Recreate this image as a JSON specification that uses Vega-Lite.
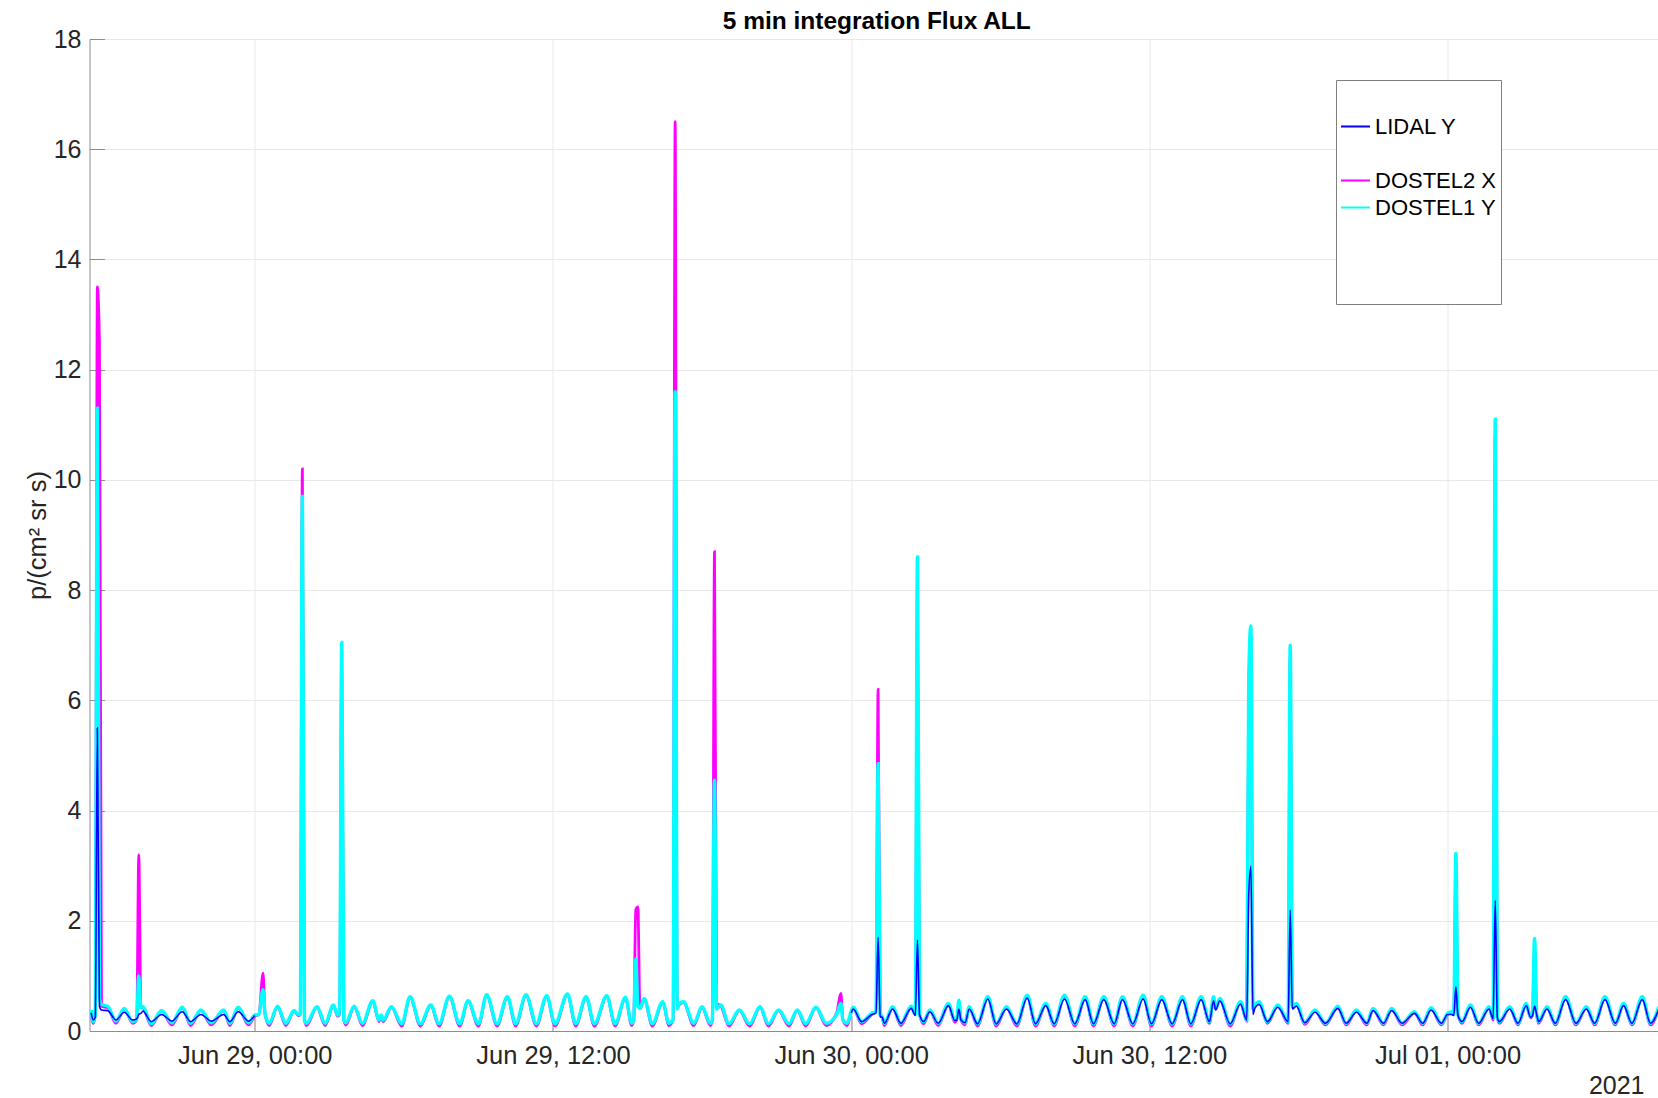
{
"$schema":"https://vega.github.io/schema/vega-lite/v6.json",
"autosize":{"type":"none"},
"width":1568.5,"height":992,
"padding":{"left":89.5,"top":39,"right":0,"bottom":67},
"background":"#ffffff",
"config":{"view":{"stroke":null},"font":"Liberation Sans"},
"title":{"text":"5 min integration Flux ALL","font":"Liberation Sans","fontSize":24.5,"fontWeight":"bold","anchor":"middle","frame":"group","offset":9,"baseline":"alphabetic","dx":3,"dy":35,"color":"#000000"},
"data":{"values":[
{"t":"2021-06-28T17:25","DOSTEL2 X":0.35,"DOSTEL1 Y":0.38,"LIDAL Y":0.33},
{"t":"2021-06-28T17:30","DOSTEL2 X":0.14,"DOSTEL1 Y":0.17,"LIDAL Y":0.2},
{"t":"2021-06-28T17:35","DOSTEL2 X":0.3,"DOSTEL1 Y":0.3,"LIDAL Y":0.25},
{"t":"2021-06-28T17:40","DOSTEL2 X":13.5,"DOSTEL1 Y":11.3,"LIDAL Y":5.5},
{"t":"2021-06-28T17:45","DOSTEL2 X":12.5,"DOSTEL1 Y":0.6,"LIDAL Y":0.45},
{"t":"2021-06-28T17:50","DOSTEL2 X":0.45,"DOSTEL1 Y":0.48,"LIDAL Y":0.38},
{"t":"2021-06-28T18:05","DOSTEL2 X":0.42,"DOSTEL1 Y":0.45,"LIDAL Y":0.37},
{"t":"2021-06-28T18:25","DOSTEL2 X":0.14,"DOSTEL1 Y":0.18,"LIDAL Y":0.2},
{"t":"2021-06-28T18:45","DOSTEL2 X":0.4,"DOSTEL1 Y":0.41,"LIDAL Y":0.34},
{"t":"2021-06-28T19:05","DOSTEL2 X":0.14,"DOSTEL1 Y":0.17,"LIDAL Y":0.2},
{"t":"2021-06-28T19:15","DOSTEL2 X":0.2,"DOSTEL1 Y":0.2,"LIDAL Y":0.22},
{"t":"2021-06-28T19:20","DOSTEL2 X":3.2,"DOSTEL1 Y":1.0,"LIDAL Y":0.3},
{"t":"2021-06-28T19:25","DOSTEL2 X":0.45,"DOSTEL1 Y":0.42,"LIDAL Y":0.32},
{"t":"2021-06-28T19:30","DOSTEL2 X":0.43,"DOSTEL1 Y":0.44,"LIDAL Y":0.36},
{"t":"2021-06-28T19:50","DOSTEL2 X":0.1,"DOSTEL1 Y":0.13,"LIDAL Y":0.17},
{"t":"2021-06-28T20:15","DOSTEL2 X":0.36,"DOSTEL1 Y":0.37,"LIDAL Y":0.3},
{"t":"2021-06-28T20:40","DOSTEL2 X":0.11,"DOSTEL1 Y":0.15,"LIDAL Y":0.18},
{"t":"2021-06-28T21:05","DOSTEL2 X":0.42,"DOSTEL1 Y":0.43,"LIDAL Y":0.35},
{"t":"2021-06-28T21:25","DOSTEL2 X":0.1,"DOSTEL1 Y":0.14,"LIDAL Y":0.17},
{"t":"2021-06-28T21:50","DOSTEL2 X":0.37,"DOSTEL1 Y":0.38,"LIDAL Y":0.3},
{"t":"2021-06-28T22:15","DOSTEL2 X":0.11,"DOSTEL1 Y":0.15,"LIDAL Y":0.18},
{"t":"2021-06-28T22:45","DOSTEL2 X":0.37,"DOSTEL1 Y":0.38,"LIDAL Y":0.3},
{"t":"2021-06-28T23:00","DOSTEL2 X":0.1,"DOSTEL1 Y":0.14,"LIDAL Y":0.17},
{"t":"2021-06-28T23:20","DOSTEL2 X":0.42,"DOSTEL1 Y":0.43,"LIDAL Y":0.35},
{"t":"2021-06-28T23:45","DOSTEL2 X":0.11,"DOSTEL1 Y":0.15,"LIDAL Y":0.18},
{"t":"2021-06-29T00:00","DOSTEL2 X":0.27,"DOSTEL1 Y":0.29,"LIDAL Y":0.28},
{"t":"2021-06-29T00:10","DOSTEL2 X":0.3,"DOSTEL1 Y":0.3},
{"t":"2021-06-29T00:20","DOSTEL2 X":1.05,"DOSTEL1 Y":0.75},
{"t":"2021-06-29T00:25","DOSTEL2 X":0.3,"DOSTEL1 Y":0.3},
{"t":"2021-06-29T00:35","DOSTEL2 X":0.1,"DOSTEL1 Y":0.14},
{"t":"2021-06-29T00:55","DOSTEL2 X":0.44,"DOSTEL1 Y":0.45},
{"t":"2021-06-29T01:15","DOSTEL2 X":0.1,"DOSTEL1 Y":0.14},
{"t":"2021-06-29T01:35","DOSTEL2 X":0.36,"DOSTEL1 Y":0.37},
{"t":"2021-06-29T01:45","DOSTEL2 X":0.28,"DOSTEL1 Y":0.3},
{"t":"2021-06-29T01:50","DOSTEL2 X":0.3,"DOSTEL1 Y":0.3},
{"t":"2021-06-29T01:55","DOSTEL2 X":10.2,"DOSTEL1 Y":9.7},
{"t":"2021-06-29T02:00","DOSTEL2 X":0.2,"DOSTEL1 Y":0.2},
{"t":"2021-06-29T02:05","DOSTEL2 X":0.1,"DOSTEL1 Y":0.14},
{"t":"2021-06-29T02:30","DOSTEL2 X":0.43,"DOSTEL1 Y":0.44},
{"t":"2021-06-29T02:50","DOSTEL2 X":0.1,"DOSTEL1 Y":0.14},
{"t":"2021-06-29T03:10","DOSTEL2 X":0.46,"DOSTEL1 Y":0.47},
{"t":"2021-06-29T03:20","DOSTEL2 X":0.27,"DOSTEL1 Y":0.29},
{"t":"2021-06-29T03:25","DOSTEL2 X":0.3,"DOSTEL1 Y":0.3},
{"t":"2021-06-29T03:30","DOSTEL2 X":6.9,"DOSTEL1 Y":7.05},
{"t":"2021-06-29T03:35","DOSTEL2 X":0.2,"DOSTEL1 Y":0.2},
{"t":"2021-06-29T03:40","DOSTEL2 X":0.11,"DOSTEL1 Y":0.15},
{"t":"2021-06-29T04:00","DOSTEL2 X":0.44,"DOSTEL1 Y":0.45},
{"t":"2021-06-29T04:20","DOSTEL2 X":0.1,"DOSTEL1 Y":0.14},
{"t":"2021-06-29T04:45","DOSTEL2 X":0.54,"DOSTEL1 Y":0.55},
{"t":"2021-06-29T05:00","DOSTEL2 X":0.17,"DOSTEL1 Y":0.2},
{"t":"2021-06-29T05:05","DOSTEL2 X":0.27,"DOSTEL1 Y":0.29},
{"t":"2021-06-29T05:10","DOSTEL2 X":0.17,"DOSTEL1 Y":0.2},
{"t":"2021-06-29T05:30","DOSTEL2 X":0.43,"DOSTEL1 Y":0.44},
{"t":"2021-06-29T05:55","DOSTEL2 X":0.09,"DOSTEL1 Y":0.13},
{"t":"2021-06-29T06:15","DOSTEL2 X":0.61,"DOSTEL1 Y":0.62},
{"t":"2021-06-29T06:40","DOSTEL2 X":0.09,"DOSTEL1 Y":0.13},
{"t":"2021-06-29T07:05","DOSTEL2 X":0.46,"DOSTEL1 Y":0.47},
{"t":"2021-06-29T07:25","DOSTEL2 X":0.09,"DOSTEL1 Y":0.13},
{"t":"2021-06-29T07:50","DOSTEL2 X":0.62,"DOSTEL1 Y":0.63},
{"t":"2021-06-29T08:15","DOSTEL2 X":0.09,"DOSTEL1 Y":0.13},
{"t":"2021-06-29T08:35","DOSTEL2 X":0.54,"DOSTEL1 Y":0.55},
{"t":"2021-06-29T09:00","DOSTEL2 X":0.09,"DOSTEL1 Y":0.13},
{"t":"2021-06-29T09:20","DOSTEL2 X":0.65,"DOSTEL1 Y":0.66},
{"t":"2021-06-29T09:45","DOSTEL2 X":0.09,"DOSTEL1 Y":0.13},
{"t":"2021-06-29T10:10","DOSTEL2 X":0.61,"DOSTEL1 Y":0.62},
{"t":"2021-06-29T10:30","DOSTEL2 X":0.09,"DOSTEL1 Y":0.13},
{"t":"2021-06-29T10:55","DOSTEL2 X":0.65,"DOSTEL1 Y":0.66},
{"t":"2021-06-29T11:20","DOSTEL2 X":0.09,"DOSTEL1 Y":0.13},
{"t":"2021-06-29T11:45","DOSTEL2 X":0.63,"DOSTEL1 Y":0.64},
{"t":"2021-06-29T12:05","DOSTEL2 X":0.09,"DOSTEL1 Y":0.13},
{"t":"2021-06-29T12:35","DOSTEL2 X":0.66,"DOSTEL1 Y":0.67},
{"t":"2021-06-29T12:55","DOSTEL2 X":0.09,"DOSTEL1 Y":0.13},
{"t":"2021-06-29T13:20","DOSTEL2 X":0.61,"DOSTEL1 Y":0.62},
{"t":"2021-06-29T13:40","DOSTEL2 X":0.09,"DOSTEL1 Y":0.13},
{"t":"2021-06-29T14:10","DOSTEL2 X":0.63,"DOSTEL1 Y":0.64},
{"t":"2021-06-29T14:30","DOSTEL2 X":0.09,"DOSTEL1 Y":0.13},
{"t":"2021-06-29T14:55","DOSTEL2 X":0.6,"DOSTEL1 Y":0.61},
{"t":"2021-06-29T15:10","DOSTEL2 X":0.1,"DOSTEL1 Y":0.14},
{"t":"2021-06-29T15:15","DOSTEL2 X":0.2,"DOSTEL1 Y":0.2},
{"t":"2021-06-29T15:20","DOSTEL2 X":2.2,"DOSTEL1 Y":1.3},
{"t":"2021-06-29T15:25","DOSTEL2 X":2.25,"DOSTEL1 Y":0.45},
{"t":"2021-06-29T15:30","DOSTEL2 X":0.4,"DOSTEL1 Y":0.41},
{"t":"2021-06-29T15:40","DOSTEL2 X":0.58,"DOSTEL1 Y":0.59},
{"t":"2021-06-29T16:00","DOSTEL2 X":0.09,"DOSTEL1 Y":0.13},
{"t":"2021-06-29T16:25","DOSTEL2 X":0.52,"DOSTEL1 Y":0.53},
{"t":"2021-06-29T16:40","DOSTEL2 X":0.1,"DOSTEL1 Y":0.14},
{"t":"2021-06-29T16:50","DOSTEL2 X":0.2,"DOSTEL1 Y":0.2},
{"t":"2021-06-29T16:55","DOSTEL2 X":16.5,"DOSTEL1 Y":11.6},
{"t":"2021-06-29T17:00","DOSTEL2 X":0.45,"DOSTEL1 Y":0.4},
{"t":"2021-06-29T17:05","DOSTEL2 X":0.48,"DOSTEL1 Y":0.5},
{"t":"2021-06-29T17:15","DOSTEL2 X":0.52,"DOSTEL1 Y":0.53},
{"t":"2021-06-29T17:40","DOSTEL2 X":0.1,"DOSTEL1 Y":0.14},
{"t":"2021-06-29T18:00","DOSTEL2 X":0.43,"DOSTEL1 Y":0.44},
{"t":"2021-06-29T18:20","DOSTEL2 X":0.1,"DOSTEL1 Y":0.14},
{"t":"2021-06-29T18:25","DOSTEL2 X":0.2,"DOSTEL1 Y":0.2},
{"t":"2021-06-29T18:30","DOSTEL2 X":8.7,"DOSTEL1 Y":4.55},
{"t":"2021-06-29T18:35","DOSTEL2 X":0.5,"DOSTEL1 Y":0.4},
{"t":"2021-06-29T18:45","DOSTEL2 X":0.46,"DOSTEL1 Y":0.47},
{"t":"2021-06-29T19:05","DOSTEL2 X":0.09,"DOSTEL1 Y":0.13},
{"t":"2021-06-29T19:30","DOSTEL2 X":0.37,"DOSTEL1 Y":0.38},
{"t":"2021-06-29T19:55","DOSTEL2 X":0.09,"DOSTEL1 Y":0.13},
{"t":"2021-06-29T20:20","DOSTEL2 X":0.43,"DOSTEL1 Y":0.44},
{"t":"2021-06-29T20:40","DOSTEL2 X":0.09,"DOSTEL1 Y":0.13},
{"t":"2021-06-29T21:05","DOSTEL2 X":0.37,"DOSTEL1 Y":0.38},
{"t":"2021-06-29T21:30","DOSTEL2 X":0.09,"DOSTEL1 Y":0.13},
{"t":"2021-06-29T21:50","DOSTEL2 X":0.37,"DOSTEL1 Y":0.38},
{"t":"2021-06-29T22:10","DOSTEL2 X":0.09,"DOSTEL1 Y":0.13},
{"t":"2021-06-29T22:35","DOSTEL2 X":0.42,"DOSTEL1 Y":0.43},
{"t":"2021-06-29T23:00","DOSTEL2 X":0.1,"DOSTEL1 Y":0.14},
{"t":"2021-06-29T23:25","DOSTEL2 X":0.33,"DOSTEL1 Y":0.3},
{"t":"2021-06-29T23:35","DOSTEL2 X":0.68,"DOSTEL1 Y":0.5},
{"t":"2021-06-29T23:40","DOSTEL2 X":0.2,"DOSTEL1 Y":0.2},
{"t":"2021-06-29T23:50","DOSTEL2 X":0.1,"DOSTEL1 Y":0.14},
{"t":"2021-06-30T00:00","DOSTEL2 X":0.33,"DOSTEL1 Y":0.35,"LIDAL Y":0.33},
{"t":"2021-06-30T00:05","DOSTEL2 X":0.41,"DOSTEL1 Y":0.43,"LIDAL Y":0.4},
{"t":"2021-06-30T00:25","DOSTEL2 X":0.13,"DOSTEL1 Y":0.17,"LIDAL Y":0.17},
{"t":"2021-06-30T00:50","DOSTEL2 X":0.3,"DOSTEL1 Y":0.32,"LIDAL Y":0.3},
{"t":"2021-06-30T01:00","DOSTEL2 X":0.35,"DOSTEL1 Y":0.35,"LIDAL Y":0.33},
{"t":"2021-06-30T01:05","DOSTEL2 X":6.2,"DOSTEL1 Y":4.85,"LIDAL Y":1.7},
{"t":"2021-06-30T01:10","DOSTEL2 X":0.3,"DOSTEL1 Y":0.3,"LIDAL Y":0.26},
{"t":"2021-06-30T01:15","DOSTEL2 X":0.24,"DOSTEL1 Y":0.26,"LIDAL Y":0.25},
{"t":"2021-06-30T01:20","DOSTEL2 X":0.1,"DOSTEL1 Y":0.14,"LIDAL Y":0.14},
{"t":"2021-06-30T01:40","DOSTEL2 X":0.42,"DOSTEL1 Y":0.44,"LIDAL Y":0.4},
{"t":"2021-06-30T02:00","DOSTEL2 X":0.1,"DOSTEL1 Y":0.14,"LIDAL Y":0.14},
{"t":"2021-06-30T02:25","DOSTEL2 X":0.43,"DOSTEL1 Y":0.45,"LIDAL Y":0.41},
{"t":"2021-06-30T02:35","DOSTEL2 X":0.3,"DOSTEL1 Y":0.3,"LIDAL Y":0.28},
{"t":"2021-06-30T02:40","DOSTEL2 X":8.1,"DOSTEL1 Y":8.6,"LIDAL Y":1.65},
{"t":"2021-06-30T02:45","DOSTEL2 X":0.3,"DOSTEL1 Y":0.3,"LIDAL Y":0.3},
{"t":"2021-06-30T02:55","DOSTEL2 X":0.13,"DOSTEL1 Y":0.17,"LIDAL Y":0.17},
{"t":"2021-06-30T03:10","DOSTEL2 X":0.36,"DOSTEL1 Y":0.38,"LIDAL Y":0.35},
{"t":"2021-06-30T03:30","DOSTEL2 X":0.1,"DOSTEL1 Y":0.14,"LIDAL Y":0.14},
{"t":"2021-06-30T03:55","DOSTEL2 X":0.48,"DOSTEL1 Y":0.5,"LIDAL Y":0.46},
{"t":"2021-06-30T04:10","DOSTEL2 X":0.16,"DOSTEL1 Y":0.2,"LIDAL Y":0.19},
{"t":"2021-06-30T04:15","DOSTEL2 X":0.2,"DOSTEL1 Y":0.22,"LIDAL Y":0.2},
{"t":"2021-06-30T04:20","DOSTEL2 X":0.5,"DOSTEL1 Y":0.56,"LIDAL Y":0.4},
{"t":"2021-06-30T04:25","DOSTEL2 X":0.2,"DOSTEL1 Y":0.22,"LIDAL Y":0.2},
{"t":"2021-06-30T04:35","DOSTEL2 X":0.11,"DOSTEL1 Y":0.15,"LIDAL Y":0.15},
{"t":"2021-06-30T04:45","DOSTEL2 X":0.42,"DOSTEL1 Y":0.44,"LIDAL Y":0.4},
{"t":"2021-06-30T05:05","DOSTEL2 X":0.09,"DOSTEL1 Y":0.13,"LIDAL Y":0.13},
{"t":"2021-06-30T05:30","DOSTEL2 X":0.6,"DOSTEL1 Y":0.62,"LIDAL Y":0.58},
{"t":"2021-06-30T05:50","DOSTEL2 X":0.09,"DOSTEL1 Y":0.13,"LIDAL Y":0.13},
{"t":"2021-06-30T06:15","DOSTEL2 X":0.42,"DOSTEL1 Y":0.44,"LIDAL Y":0.4},
{"t":"2021-06-30T06:40","DOSTEL2 X":0.09,"DOSTEL1 Y":0.13,"LIDAL Y":0.13},
{"t":"2021-06-30T07:05","DOSTEL2 X":0.63,"DOSTEL1 Y":0.65,"LIDAL Y":0.6},
{"t":"2021-06-30T07:25","DOSTEL2 X":0.09,"DOSTEL1 Y":0.13,"LIDAL Y":0.13},
{"t":"2021-06-30T07:50","DOSTEL2 X":0.48,"DOSTEL1 Y":0.5,"LIDAL Y":0.46},
{"t":"2021-06-30T08:10","DOSTEL2 X":0.09,"DOSTEL1 Y":0.13,"LIDAL Y":0.13},
{"t":"2021-06-30T08:35","DOSTEL2 X":0.63,"DOSTEL1 Y":0.65,"LIDAL Y":0.58},
{"t":"2021-06-30T09:00","DOSTEL2 X":0.09,"DOSTEL1 Y":0.13,"LIDAL Y":0.13},
{"t":"2021-06-30T09:25","DOSTEL2 X":0.6,"DOSTEL1 Y":0.62,"LIDAL Y":0.57},
{"t":"2021-06-30T09:45","DOSTEL2 X":0.09,"DOSTEL1 Y":0.13,"LIDAL Y":0.13},
{"t":"2021-06-30T10:10","DOSTEL2 X":0.6,"DOSTEL1 Y":0.62,"LIDAL Y":0.57},
{"t":"2021-06-30T10:35","DOSTEL2 X":0.09,"DOSTEL1 Y":0.13,"LIDAL Y":0.13},
{"t":"2021-06-30T10:55","DOSTEL2 X":0.6,"DOSTEL1 Y":0.62,"LIDAL Y":0.57},
{"t":"2021-06-30T11:20","DOSTEL2 X":0.09,"DOSTEL1 Y":0.13,"LIDAL Y":0.13},
{"t":"2021-06-30T11:45","DOSTEL2 X":0.63,"DOSTEL1 Y":0.65,"LIDAL Y":0.58},
{"t":"2021-06-30T12:05","DOSTEL2 X":0.09,"DOSTEL1 Y":0.13,"LIDAL Y":0.13},
{"t":"2021-06-30T12:30","DOSTEL2 X":0.6,"DOSTEL1 Y":0.62,"LIDAL Y":0.57},
{"t":"2021-06-30T12:55","DOSTEL2 X":0.09,"DOSTEL1 Y":0.13,"LIDAL Y":0.13},
{"t":"2021-06-30T13:20","DOSTEL2 X":0.6,"DOSTEL1 Y":0.62,"LIDAL Y":0.57},
{"t":"2021-06-30T13:40","DOSTEL2 X":0.09,"DOSTEL1 Y":0.13,"LIDAL Y":0.13},
{"t":"2021-06-30T14:05","DOSTEL2 X":0.6,"DOSTEL1 Y":0.62,"LIDAL Y":0.57},
{"t":"2021-06-30T14:25","DOSTEL2 X":0.14,"DOSTEL1 Y":0.17,"LIDAL Y":0.17},
{"t":"2021-06-30T14:35","DOSTEL2 X":0.58,"DOSTEL1 Y":0.62,"LIDAL Y":0.55},
{"t":"2021-06-30T14:40","DOSTEL2 X":0.4,"DOSTEL1 Y":0.41,"LIDAL Y":0.38},
{"t":"2021-06-30T14:50","DOSTEL2 X":0.57,"DOSTEL1 Y":0.59,"LIDAL Y":0.55},
{"t":"2021-06-30T15:15","DOSTEL2 X":0.09,"DOSTEL1 Y":0.13,"LIDAL Y":0.13},
{"t":"2021-06-30T15:40","DOSTEL2 X":0.51,"DOSTEL1 Y":0.53,"LIDAL Y":0.49},
{"t":"2021-06-30T15:55","DOSTEL2 X":0.18,"DOSTEL1 Y":0.2,"LIDAL Y":0.2},
{"t":"2021-06-30T16:00","DOSTEL2 X":6.2,"DOSTEL1 Y":6.4,"LIDAL Y":2.5},
{"t":"2021-06-30T16:05","DOSTEL2 X":7.1,"DOSTEL1 Y":7.35,"LIDAL Y":2.99},
{"t":"2021-06-30T16:10","DOSTEL2 X":0.4,"DOSTEL1 Y":0.4,"LIDAL Y":0.3},
{"t":"2021-06-30T16:15","DOSTEL2 X":0.45,"DOSTEL1 Y":0.47,"LIDAL Y":0.42},
{"t":"2021-06-30T16:25","DOSTEL2 X":0.51,"DOSTEL1 Y":0.53,"LIDAL Y":0.48},
{"t":"2021-06-30T16:45","DOSTEL2 X":0.14,"DOSTEL1 Y":0.17,"LIDAL Y":0.17},
{"t":"2021-06-30T17:10","DOSTEL2 X":0.45,"DOSTEL1 Y":0.47,"LIDAL Y":0.43},
{"t":"2021-06-30T17:35","DOSTEL2 X":0.14,"DOSTEL1 Y":0.17,"LIDAL Y":0.17},
{"t":"2021-06-30T17:40","DOSTEL2 X":6.8,"DOSTEL1 Y":7.0,"LIDAL Y":2.2},
{"t":"2021-06-30T17:45","DOSTEL2 X":0.43,"DOSTEL1 Y":0.45,"LIDAL Y":0.4},
{"t":"2021-06-30T17:55","DOSTEL2 X":0.48,"DOSTEL1 Y":0.5,"LIDAL Y":0.45},
{"t":"2021-06-30T18:15","DOSTEL2 X":0.12,"DOSTEL1 Y":0.15,"LIDAL Y":0.15},
{"t":"2021-06-30T18:40","DOSTEL2 X":0.36,"DOSTEL1 Y":0.38,"LIDAL Y":0.34},
{"t":"2021-06-30T19:05","DOSTEL2 X":0.11,"DOSTEL1 Y":0.14,"LIDAL Y":0.14},
{"t":"2021-06-30T19:35","DOSTEL2 X":0.43,"DOSTEL1 Y":0.45,"LIDAL Y":0.41},
{"t":"2021-06-30T19:55","DOSTEL2 X":0.11,"DOSTEL1 Y":0.14,"LIDAL Y":0.14},
{"t":"2021-06-30T20:20","DOSTEL2 X":0.36,"DOSTEL1 Y":0.38,"LIDAL Y":0.34},
{"t":"2021-06-30T20:45","DOSTEL2 X":0.11,"DOSTEL1 Y":0.14,"LIDAL Y":0.14},
{"t":"2021-06-30T21:00","DOSTEL2 X":0.39,"DOSTEL1 Y":0.41,"LIDAL Y":0.37},
{"t":"2021-06-30T21:25","DOSTEL2 X":0.11,"DOSTEL1 Y":0.14,"LIDAL Y":0.14},
{"t":"2021-06-30T21:45","DOSTEL2 X":0.39,"DOSTEL1 Y":0.41,"LIDAL Y":0.37},
{"t":"2021-06-30T22:10","DOSTEL2 X":0.11,"DOSTEL1 Y":0.14,"LIDAL Y":0.14},
{"t":"2021-06-30T22:40","DOSTEL2 X":0.33,"DOSTEL1 Y":0.35,"LIDAL Y":0.32},
{"t":"2021-06-30T23:00","DOSTEL2 X":0.11,"DOSTEL1 Y":0.14,"LIDAL Y":0.14},
{"t":"2021-06-30T23:20","DOSTEL2 X":0.4,"DOSTEL1 Y":0.42,"LIDAL Y":0.38},
{"t":"2021-06-30T23:45","DOSTEL2 X":0.11,"DOSTEL1 Y":0.14,"LIDAL Y":0.14},
{"t":"2021-07-01T00:00","DOSTEL2 X":0.3,"DOSTEL1 Y":0.32,"LIDAL Y":0.3},
{"t":"2021-07-01T00:10","DOSTEL2 X":0.33,"DOSTEL1 Y":0.35,"LIDAL Y":0.3},
{"t":"2021-07-01T00:15","DOSTEL2 X":0.3,"DOSTEL1 Y":0.3,"LIDAL Y":0.28},
{"t":"2021-07-01T00:20","DOSTEL2 X":3.0,"DOSTEL1 Y":3.22,"LIDAL Y":0.8},
{"t":"2021-07-01T00:25","DOSTEL2 X":0.3,"DOSTEL1 Y":0.3,"LIDAL Y":0.28},
{"t":"2021-07-01T00:35","DOSTEL2 X":0.14,"DOSTEL1 Y":0.17,"LIDAL Y":0.17},
{"t":"2021-07-01T00:55","DOSTEL2 X":0.45,"DOSTEL1 Y":0.47,"LIDAL Y":0.43},
{"t":"2021-07-01T01:15","DOSTEL2 X":0.11,"DOSTEL1 Y":0.14,"LIDAL Y":0.14},
{"t":"2021-07-01T01:40","DOSTEL2 X":0.42,"DOSTEL1 Y":0.44,"LIDAL Y":0.4},
{"t":"2021-07-01T01:50","DOSTEL2 X":0.2,"DOSTEL1 Y":0.23,"LIDAL Y":0.22},
{"t":"2021-07-01T01:55","DOSTEL2 X":10.8,"DOSTEL1 Y":11.1,"LIDAL Y":2.37},
{"t":"2021-07-01T02:00","DOSTEL2 X":0.25,"DOSTEL1 Y":0.25,"LIDAL Y":0.25},
{"t":"2021-07-01T02:05","DOSTEL2 X":0.14,"DOSTEL1 Y":0.17,"LIDAL Y":0.17},
{"t":"2021-07-01T02:30","DOSTEL2 X":0.42,"DOSTEL1 Y":0.44,"LIDAL Y":0.4},
{"t":"2021-07-01T02:50","DOSTEL2 X":0.11,"DOSTEL1 Y":0.14,"LIDAL Y":0.14},
{"t":"2021-07-01T03:10","DOSTEL2 X":0.48,"DOSTEL1 Y":0.5,"LIDAL Y":0.46},
{"t":"2021-07-01T03:20","DOSTEL2 X":0.24,"DOSTEL1 Y":0.26,"LIDAL Y":0.25},
{"t":"2021-07-01T03:25","DOSTEL2 X":0.28,"DOSTEL1 Y":0.3,"LIDAL Y":0.28},
{"t":"2021-07-01T03:30","DOSTEL2 X":1.5,"DOSTEL1 Y":1.68,"LIDAL Y":0.45},
{"t":"2021-07-01T03:35","DOSTEL2 X":0.3,"DOSTEL1 Y":0.3,"LIDAL Y":0.3},
{"t":"2021-07-01T03:40","DOSTEL2 X":0.14,"DOSTEL1 Y":0.17,"LIDAL Y":0.17},
{"t":"2021-07-01T04:00","DOSTEL2 X":0.42,"DOSTEL1 Y":0.44,"LIDAL Y":0.4},
{"t":"2021-07-01T04:20","DOSTEL2 X":0.11,"DOSTEL1 Y":0.14,"LIDAL Y":0.14},
{"t":"2021-07-01T04:45","DOSTEL2 X":0.6,"DOSTEL1 Y":0.62,"LIDAL Y":0.57},
{"t":"2021-07-01T05:10","DOSTEL2 X":0.11,"DOSTEL1 Y":0.14,"LIDAL Y":0.14},
{"t":"2021-07-01T05:35","DOSTEL2 X":0.42,"DOSTEL1 Y":0.44,"LIDAL Y":0.4},
{"t":"2021-07-01T05:55","DOSTEL2 X":0.11,"DOSTEL1 Y":0.14,"LIDAL Y":0.14},
{"t":"2021-07-01T06:20","DOSTEL2 X":0.6,"DOSTEL1 Y":0.62,"LIDAL Y":0.57},
{"t":"2021-07-01T06:45","DOSTEL2 X":0.11,"DOSTEL1 Y":0.14,"LIDAL Y":0.14},
{"t":"2021-07-01T07:05","DOSTEL2 X":0.48,"DOSTEL1 Y":0.5,"LIDAL Y":0.46},
{"t":"2021-07-01T07:25","DOSTEL2 X":0.11,"DOSTEL1 Y":0.14,"LIDAL Y":0.14},
{"t":"2021-07-01T07:50","DOSTEL2 X":0.6,"DOSTEL1 Y":0.62,"LIDAL Y":0.57},
{"t":"2021-07-01T08:10","DOSTEL2 X":0.11,"DOSTEL1 Y":0.14,"LIDAL Y":0.14},
{"t":"2021-07-01T08:30","DOSTEL2 X":0.42,"DOSTEL1 Y":0.44,"LIDAL Y":0.4}
]},
"transform":[{"fold":["DOSTEL2 X","DOSTEL1 Y","LIDAL Y"],"as":["series","flux"]}],
"encoding":{
"x":{"field":"t","type":"temporal",
 "scale":{"domain":[{"year":2021,"month":6,"date":28,"hours":17,"minutes":21},{"year":2021,"month":7,"date":1,"hours":8,"minutes":28}]},
 "axis":{"values":[{"year":2021,"month":6,"date":29},{"year":2021,"month":6,"date":29,"hours":12},{"year":2021,"month":6,"date":30},{"year":2021,"month":6,"date":30,"hours":12},{"year":2021,"month":7,"date":1}],
  "format":"%b %d, %H:%M","labelFont":"Liberation Sans","labelFontSize":25.5,"labelColor":"#262626","labelPadding":27,"labelOverlap":false,"labelFlush":false,
  "tickSize":-15,"tickColor":"#8c8c8c","domainColor":"#8c8c8c","grid":true,"gridColor":"#e8e8e8",
  "title":"2021","titleFont":"Liberation Sans","titleFontSize":25,"titleFontWeight":"normal","titleColor":"#262626","titleAlign":"right","titleBaseline":"alphabetic","titleX":1554.5,"titleY":62}},
"y":{"field":"flux","type":"quantitative","scale":{"domain":[0,18],"nice":false,"zero":true},
 "axis":{"values":[0,2,4,6,8,10,12,14,16,18],"labelFont":"Liberation Sans","labelFontSize":25,"labelColor":"#262626","labelPadding":23.5,
  "tickSize":-15,"tickColor":"#8c8c8c","domainColor":"#8c8c8c","grid":true,"gridColor":"#e8e8e8",
  "title":"p/(cm² sr s)","titleFont":"Liberation Sans","titleFontSize":25.5,"titleFontWeight":"normal","titleColor":"#262626","titlePadding":3}},
"color":{"field":"series","type":"nominal",
 "scale":{"domain":["_1","LIDAL Y","_2","DOSTEL2 X","DOSTEL1 Y","_3","_4","_5"],"range":["transparent","#0000ff","transparent","#ff00ff","#00ffff","transparent","transparent","transparent"]},
 "legend":{"orient":"none","legendX":1246.5,"legendY":41,"title":null,"symbolType":"stroke","symbolSize":841,"symbolStrokeWidth":2,"labelFont":"Liberation Sans","labelFontSize":22,"labelColor":"#000000","labelOffset":4,"labelLimit":300,"padding":4,"rowPadding":0,"strokeColor":"#7f7f7f","fillColor":"#ffffff","labelExpr":"indexof(datum.label,'_')==0 ? '' : datum.label"}}
},
"layer":[
{"transform":[{"filter":"datum.series == 'DOSTEL2 X'"}],"mark":{"type":"line","interpolate":"monotone","strokeWidth":2.8,"clip":true,"invalid":"break-paths-filter-domains"}},
{"transform":[{"filter":"datum.series == 'DOSTEL1 Y'"}],"mark":{"type":"line","interpolate":"monotone","strokeWidth":3.5,"clip":true,"invalid":"break-paths-filter-domains"}},
{"transform":[{"filter":"datum.series == 'LIDAL Y'"}],"mark":{"type":"line","interpolate":"monotone","strokeWidth":1.6,"clip":true,"invalid":"break-paths-filter-domains"}}
]
}
